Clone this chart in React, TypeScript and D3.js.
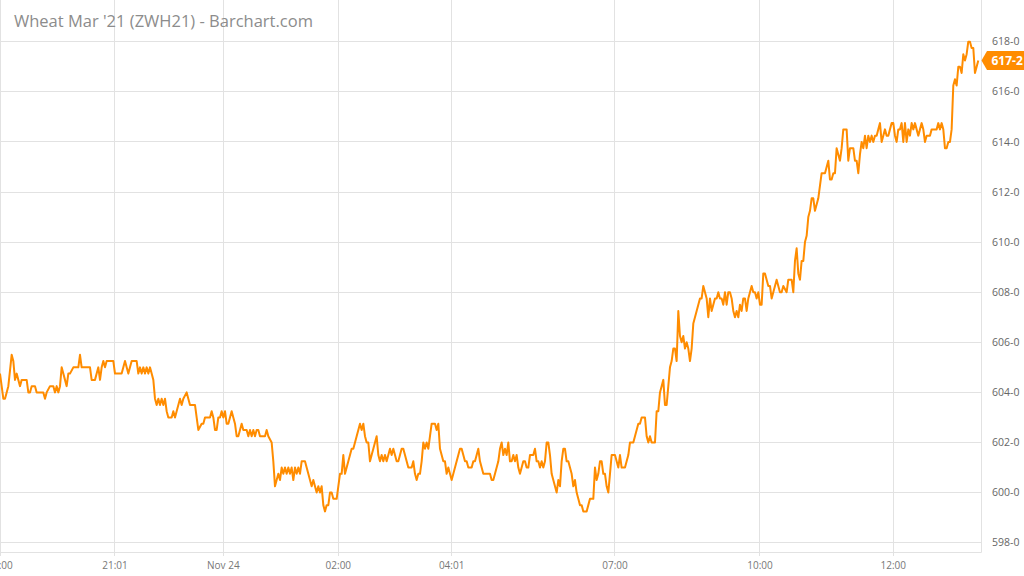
import React from 'react';
import * as d3 from 'd3';

const TITLE = "Wheat Mar '21 (ZWH21) - Barchart.com";
const priceTicks = [598, 600, 602, 604, 606, 608, 610, 612, 614, 616, 618];
const timeLabels = ['20:00', '21:01', 'Nov 24', '02:00', '04:01', '07:00', '10:00', '12:00'];
const timeLabelBars = [0, 69, 134, 203, 271, 369, 456, 536];
const lastPrice = 617.25;

// [bar index, price in cents]
const trades: [number, number][] = [
  [0, 604.75], [1, 604.25], [2, 603.75], [3, 603.75], [4, 604], [5, 604.25], [7, 605.5], [8, 605.25], [9, 604.5], [10, 604.75],
  [11, 604.5], [12, 604.25], [13, 604.5], [14, 604.5], [15, 604.5], [16, 604.5], [17, 604], [18, 604], [19, 604.25], [21, 604.25],
  [22, 604], [26, 604], [27, 603.75], [28, 604], [30, 604.25], [32, 604.25], [33, 604], [34, 604.25], [35, 604], [36, 604.25],
  [37, 605], [38, 604.75], [39, 604.5], [40, 604.25], [41, 604.75], [42, 604.75], [44, 605], [47, 605], [48, 605.5], [49, 605],
  [54, 605], [55, 604.5], [57, 604.5], [58, 604.75], [59, 605], [60, 604.5], [61, 605], [62, 605.25], [63, 605], [64, 605.25],
  [68, 605.25], [69, 604.75], [73, 604.75], [74, 605], [75, 605.25], [76, 605], [77, 604.75], [79, 605.25], [82, 605.25], [83, 604.75],
  [84, 605], [85, 604.75], [86, 605], [87, 604.75], [88, 605], [89, 604.75], [90, 605], [91, 604.75], [92, 604.5], [93, 603.75],
  [94, 603.5], [95, 603.75], [96, 603.5], [97, 603.75], [98, 603.5], [99, 603.75], [100, 603.25], [101, 603], [103, 603], [104, 603.25],
  [105, 603], [106, 603.25], [108, 603.75], [109, 603.5], [110, 603.75], [112, 604], [113, 603.75], [114, 603.5], [117, 603.5], [118, 603],
  [119, 602.5], [121, 602.75], [122, 602.75], [123, 603], [126, 603], [127, 603.25], [128, 603], [129, 602.5], [130, 602.5], [131, 603],
  [132, 603], [133, 603.25], [134, 603], [135, 603.25], [136, 602.75], [137, 602.75], [138, 603], [139, 603.25], [140, 603], [141, 602.75],
  [142, 602.25], [143, 602.25], [144, 602.5], [145, 602.75], [146, 602.5], [148, 602.5], [149, 602.25], [150, 602.5], [151, 602.25], [152, 602.5],
  [153, 602.25], [154, 602.5], [155, 602.5], [156, 602.25], [159, 602.25], [160, 602.5], [161, 602.25], [163, 602], [164, 601.25], [165, 600.25],
  [166, 600.5], [167, 600.75], [168, 600.5], [169, 601], [170, 600.75], [171, 601], [172, 600.75], [173, 601], [174, 600.75], [175, 601],
  [176, 600.5], [177, 601], [178, 600.75], [179, 601], [180, 600.75], [181, 601.25], [183, 601.25], [184, 601], [185, 600.75], [186, 600.5],
  [187, 600.25], [188, 600.5], [189, 600.25], [190, 600], [191, 600.25], [192, 600], [193, 600.25], [194, 599.5], [195, 599.25], [196, 599.5],
  [197, 599.5], [198, 600], [199, 600], [200, 599.75], [202, 599.75], [203, 600.25], [204, 600.75], [205, 600.75], [206, 601.5], [207, 600.75],
  [208, 601], [209, 601.25], [210, 601.5], [211, 601.75], [212, 601.75], [213, 602], [214, 602.25], [215, 602.5], [216, 602.75], [217, 602.5],
  [218, 602.75], [219, 602.25], [220, 602], [221, 602], [222, 601.25], [223, 601.5], [224, 601.75], [225, 602], [226, 602.25], [227, 601.5],
  [228, 601.25], [229, 601.5], [230, 601.25], [231, 601.5], [232, 601.25], [233, 601.5], [234, 601.75], [235, 601.5], [236, 601.75], [237, 601.5],
  [238, 601.25], [239, 601.25], [240, 601.5], [241, 601.75], [242, 601.75], [243, 601.5], [244, 601.25], [245, 601], [247, 601], [248, 601.25],
  [249, 600.75], [250, 600.5], [251, 600.75], [252, 600.75], [253, 601.25], [254, 602], [255, 601.75], [256, 602], [257, 601.75], [258, 602.25],
  [259, 602.75], [261, 602.75], [262, 602.5], [263, 602.75], [264, 601.75], [265, 601.5], [266, 601.25], [267, 601.25], [268, 600.75], [269, 601],
  [270, 600.75], [271, 600.5], [272, 600.75], [273, 601], [274, 601.25], [275, 601.5], [276, 601.75], [277, 601.75], [278, 601.5], [279, 601.25],
  [280, 601.25], [281, 601], [283, 601], [284, 601.25], [285, 601.25], [286, 601.5], [287, 601.75], [288, 601.25], [289, 601], [290, 600.75],
  [294, 600.75], [295, 600.5], [296, 600.5], [297, 600.75], [298, 601], [299, 601.25], [300, 601.75], [301, 602], [302, 601.5], [303, 601.75],
  [304, 601.5], [305, 602], [306, 601.25], [307, 601.25], [308, 601.5], [309, 601.25], [310, 601.5], [311, 601], [312, 600.75], [313, 601],
  [314, 601.25], [315, 601.25], [316, 601], [317, 601], [318, 601.5], [320, 601.5], [321, 601.75], [322, 601.25], [323, 601.25], [324, 601],
  [325, 601.25], [326, 601], [327, 601.25], [328, 602], [329, 602], [330, 601.5], [331, 600.75], [332, 600.5], [333, 600.25], [334, 600],
  [335, 600.5], [336, 600.25], [337, 601.25], [338, 601.75], [339, 601.75], [340, 601.25], [341, 601.25], [342, 601], [343, 600.75], [344, 600.25],
  [345, 600.5], [346, 600], [347, 599.75], [348, 599.5], [349, 599.5], [350, 599.25], [352, 599.25], [353, 599.5], [354, 599.75], [356, 599.75],
  [357, 601], [358, 600.5], [359, 600.75], [360, 601.25], [361, 601.25], [362, 600.75], [363, 600.75], [364, 600.25], [365, 600], [366, 600.75],
  [367, 601.5], [368, 601.5], [369, 601.5], [370, 601.25], [371, 601], [372, 601.5], [373, 601], [375, 601], [376, 601.25], [377, 601.5],
  [378, 602], [379, 602], [380, 602], [381, 602.25], [382, 602.5], [383, 602.75], [384, 602.75], [385, 603], [386, 603], [387, 603],
  [388, 602.25], [389, 602], [390, 602.25], [391, 602], [393, 602], [394, 603.25], [395, 603.25], [396, 604], [397, 604.25], [398, 604.5],
  [399, 603.5], [400, 603.5], [401, 604.25], [402, 605], [403, 605.25], [404, 605.75], [405, 605.75], [406, 605.25], [407, 607.25], [408, 606.25],
  [409, 606], [410, 606.25], [411, 605.75], [412, 606], [413, 605.75], [414, 605.25], [415, 605.75], [416, 606.75], [417, 607], [418, 607.25],
  [419, 607.5], [420, 607.75], [421, 607.75], [422, 608.25], [423, 608], [424, 607.75], [425, 607], [426, 607.75], [427, 607.25], [428, 607.5],
  [429, 607.75], [430, 607.75], [431, 608], [432, 607.75], [433, 607.75], [434, 607.5], [435, 608], [436, 607.5], [437, 608], [438, 608],
  [439, 607.75], [440, 607.25], [441, 607], [442, 607.25], [443, 607], [444, 607.5], [445, 607.25], [446, 607.75], [447, 607.75], [448, 607.25],
  [449, 607.75], [450, 608], [451, 608.25], [452, 608], [453, 608], [454, 607.75], [455, 608], [456, 607.5], [457, 607.5], [458, 608.75],
  [459, 608.75], [460, 608.5], [461, 608.25], [462, 608.25], [463, 607.75], [464, 608], [465, 608.25], [466, 608.5], [467, 608.25], [468, 608],
  [469, 608], [470, 608.25], [472, 608], [473, 608.5], [475, 608.5], [476, 608], [477, 609.25], [478, 609.75], [479, 608.75], [480, 608.5],
  [481, 609.25], [482, 609.25], [483, 610], [484, 610.25], [485, 611], [486, 611.25], [487, 611.75], [488, 611.75], [489, 611.25], [490, 611.5],
  [491, 611.75], [492, 612.25], [493, 612.75], [494, 612.75], [495, 612.75], [496, 613], [497, 613.25], [498, 612.5], [499, 612.5], [500, 612.75],
  [501, 612.75], [502, 613.75], [503, 613.5], [504, 613.25], [505, 613.75], [506, 614.5], [507, 614.5], [508, 614.5], [509, 613.25], [510, 613.75],
  [512, 613.75], [513, 613.25], [514, 613.25], [515, 612.75], [516, 613.5], [517, 614], [518, 613.75], [519, 614.25], [520, 613.75], [521, 614.25],
  [522, 614], [523, 614.25], [524, 614], [525, 614.25], [526, 614.25], [527, 614.5], [528, 614.75], [529, 614], [530, 614.25], [531, 614.5],
  [532, 614.25], [533, 614.25], [534, 614.5], [535, 614.75], [536, 614.75], [537, 614.25], [538, 614], [539, 614.5], [540, 614.5], [541, 614.75],
  [542, 614], [543, 614.75], [544, 614], [545, 614.5], [546, 614.25], [547, 614.75], [548, 614.5], [549, 614.75], [550, 614.5], [551, 614.25],
  [552, 614.5], [553, 614.75], [554, 614.5], [555, 614], [556, 614.25], [557, 614.25], [558, 614.25], [559, 614.5], [560, 614.5], [562, 614.5],
  [563, 614.75], [564, 614.5], [565, 614.75], [566, 614.5], [567, 613.75], [568, 613.75], [569, 614], [570, 614], [571, 614.5], [572, 616.25],
  [573, 616.5], [574, 616.25], [575, 617], [576, 617], [577, 616.75], [578, 617.5], [579, 617.25], [580, 617.5], [581, 618], [582, 618],
  [583, 617.75], [584, 617.75], [585, 616.75], [586, 617], [587, 617.25],
];

const W = 1024;
const H = 576;
const ORANGE = '#ff8c00';
const GRID = '#e2e2e2';

const fmt = (p: number) => `${Math.floor(p)}-${Math.round((p - Math.floor(p)) * 8)}`;

export default function App() {
  const x = d3.scaleLinear().domain([0, 587]).range([0, 978.3]);
  const y = d3.scaleLinear().domain([598, 618]).range([542.7, 41.7]);
  const plotRight = 981.5;
  const plotBottom = 552.5;
  const line = d3
    .line<[number, number]>()
    .x((d) => x(d[0]))
    .y((d) => y(d[1]));
  const ly = y(lastPrice);

  return (
    <div style={{ position: 'absolute', left: 0, top: 0 }}>
      <svg width={W} height={H} style={{ display: 'block', fontFamily: '"Open Sans", sans-serif' }}>
        <rect x={0} y={0} width={W} height={H} fill="#ffffff" />
        {timeLabelBars.map((b, i) => {
          const gx = Math.floor(x(b)) + 0.5;
          return <line key={'v' + i} x1={gx} x2={gx} y1={0} y2={556} stroke={GRID} strokeWidth={1} />;
        })}
        {priceTicks.map((p) => {
          const gy = Math.floor(y(p)) + 0.5;
          return <line key={'h' + p} x1={0} x2={plotRight} y1={gy} y2={gy} stroke={GRID} strokeWidth={1} />;
        })}
        <line x1={0} x2={plotRight} y1={plotBottom} y2={plotBottom} stroke={GRID} strokeWidth={1} />
        <line x1={plotRight} x2={plotRight} y1={0} y2={plotBottom} stroke={GRID} strokeWidth={1} />
        <text x={14} y={26.5} fontSize={16.5} fill="#8c8c8c">
          {TITLE}
        </text>
        <path d={line(trades) || ''} fill="none" stroke={ORANGE} strokeWidth={2} strokeLinejoin="round" />
        {priceTicks.map((p) => (
          <text key={'t' + p} x={992} y={y(p)} dy="0.35em" fontSize={10.5} fill="#666">
            {fmt(p)}
          </text>
        ))}
        {timeLabels.map((t, i) => (
          <text key={'x' + i} x={x(timeLabelBars[i])} y={568.5} fontSize={10} fill="#777" textAnchor="middle">
            {t}
          </text>
        ))}
        <path
          d={`M${plotRight},${ly} L${plotRight + 5.5},${ly - 9.5} L${W},${ly - 9.5} L${W},${ly + 9.5} L${plotRight + 5.5},${ly + 9.5} Z`}
          fill={ORANGE}
        />
        <text x={991.5} y={ly} dy="0.36em" fontSize={12} fontWeight="bold" fill="#fff">
          {fmt(lastPrice)}
        </text>
      </svg>
    </div>
  );
}
